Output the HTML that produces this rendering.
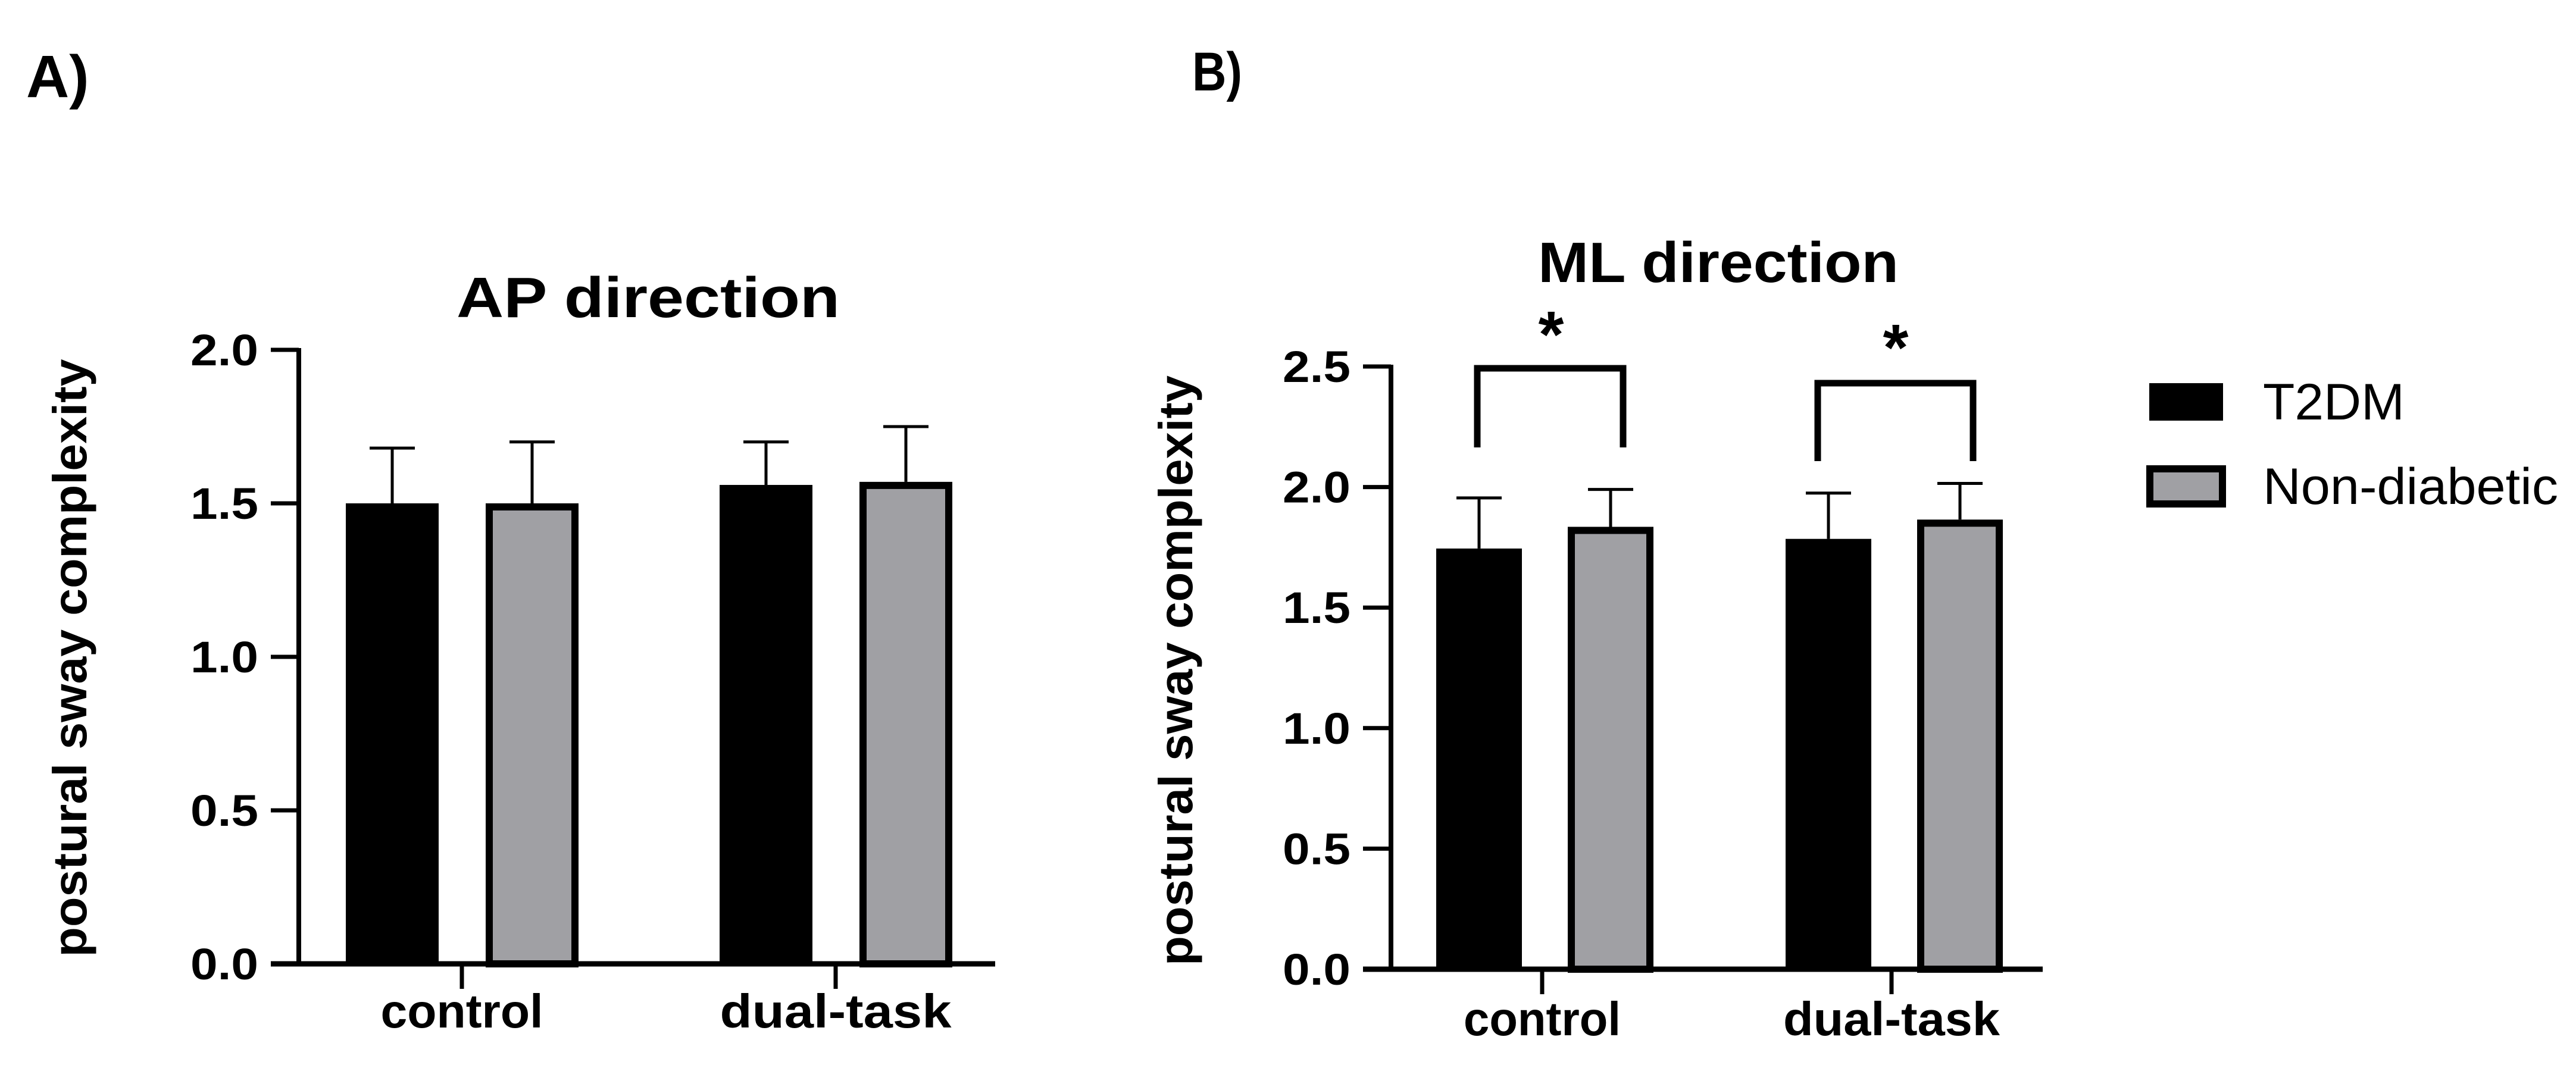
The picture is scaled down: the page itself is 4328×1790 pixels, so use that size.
<!DOCTYPE html>
<html><head><meta charset="utf-8"><style>
html,body{margin:0;padding:0;background:#fff;}
svg{display:block;font-family:"Liberation Sans",Arial,sans-serif;}
</style></head><body>
<svg id="fig" width="4328" height="1790" viewBox="0 0 4328 1790" xmlns="http://www.w3.org/2000/svg">
<rect width="4328" height="1790" fill="#fff"/>
<text x="44" y="163" font-size="100" font-weight="bold">A)</text>
<text x="2003" y="152" font-size="92" font-weight="bold" textLength="84" lengthAdjust="spacingAndGlyphs">B)</text>
<g id="chartA"></g>
<g id="chartB"></g>
<g>
<rect x="3611" y="644" width="124" height="63" fill="#000"/>
<text x="3802" y="705" font-size="86" textLength="238" lengthAdjust="spacingAndGlyphs">T2DM</text>
<rect x="3612" y="788" width="122" height="59" fill="#a0a0a4" stroke="#000" stroke-width="12"/>
<text x="3802" y="847" font-size="86" textLength="496" lengthAdjust="spacingAndGlyphs">Non-diabetic</text>
</g>
</svg>
<script>
const categories = ["control", "dual-task"];
const apT2dm = [1.50, 1.56];
const apT2dmErr = [0.18, 0.14];
const apNon = [1.50, 1.57];
const apNonErr = [0.20, 0.18];
const apTicks = ["0.0","0.5","1.0","1.5","2.0"];
const mlT2dm = [1.745, 1.785];
const mlT2dmErr = [0.21, 0.19];
const mlNon = [1.835, 1.865];
const mlNonErr = [0.155, 0.15];
const mlTicks = ["0.0","0.5","1.0","1.5","2.0","2.5"];
const sigLabels = ["*", "*"];

const NS = "http://www.w3.org/2000/svg";
function mk(parent, tag, attrs, text) {
  const e = document.createElementNS(NS, tag);
  for (const k in attrs) e.setAttribute(k, attrs[k]);
  if (text !== undefined) e.textContent = text;
  parent.appendChild(e);
  return e;
}

function drawChart(g, cfg) {
  const y = v => cfg.y0 - (v / cfg.yMax) * (cfg.y0 - cfg.yTop);
  const t = mk(g, "text", {x: cfg.titleX, y: cfg.titleY, "font-size": 96, "font-weight": "bold", "text-anchor": "middle",
    textLength: cfg.titleLen, lengthAdjust: "spacingAndGlyphs"}, cfg.title);
  
  
  const yl = mk(g, "text", {x: 0, y: 0, "font-size": cfg.ylSize, "font-weight": "bold", "text-anchor": "middle",
    transform: `translate(${cfg.ylX},${cfg.ylY}) rotate(-90)`, textLength: cfg.ylLen, lengthAdjust: "spacingAndGlyphs"}, "postural sway complexity");
  
  
  cfg.ticks.forEach(lbl => {
    const v = parseFloat(lbl);
    const tk = mk(g, "line", {x1: cfg.axisX - 47, x2: cfg.axisX, y1: y(v), y2: y(v), stroke: "#000", "stroke-width": 7});
    
    
    const tl = mk(g, "text", {x: cfg.axisX - 68, y: y(v) + 26, "font-size": 74, "font-weight": "bold", "text-anchor": "end",
      textLength: cfg.tickLen, lengthAdjust: "spacingAndGlyphs"}, lbl);
    
    
  });
  const ya = mk(g, "line", {x1: cfg.axisX, x2: cfg.axisX, y1: cfg.yTop - 3, y2: cfg.y0 + 4, stroke: "#000", "stroke-width": 8});
  
  
  const xa = mk(g, "line", {x1: cfg.axisX - 47, x2: cfg.xEnd, y1: cfg.y0, y2: cfg.y0, stroke: "#000", "stroke-width": 9});
  
  
  categories.forEach((c, i) => {
    const cx = cfg.catX[i];
    const ct = mk(g, "line", {x1: cx, x2: cx, y1: cfg.y0, y2: cfg.y0 + 42, stroke: "#000", "stroke-width": 7});
    
    
    const cl = mk(g, "text", {x: cx, y: cfg.catY, "font-size": 80, "font-weight": "bold", "text-anchor": "middle",
      textLength: cfg.catLen[i], lengthAdjust: "spacingAndGlyphs"}, c);
    
    
    const series = [[cfg.t2dm, cfg.t2dmErr, "#000", cfg.off[0], "t2dm"], [cfg.non, cfg.nonErr, "#a0a0a4", cfg.off[1], "non-diabetic"]];
    series.forEach(([vals, errs, fill, off, nm]) => {
      const bx = cx + off - cfg.bw / 2;
      const top = y(vals[i]);
      const topE = y(vals[i] + errs[i]);
      const el = mk(g, "line", {x1: bx + cfg.bw / 2, x2: bx + cfg.bw / 2, y1: top, y2: topE, stroke: "#000", "stroke-width": 5});
      
      
      const ec = mk(g, "line", {x1: bx + cfg.bw / 2 - 38, x2: bx + cfg.bw / 2 + 38, y1: topE, y2: topE, stroke: "#000", "stroke-width": 5});
      
      
      let r;
      if (fill === "#000") {
        r = mk(g, "rect", {x: bx, y: top, width: cfg.bw, height: cfg.y0 - top, fill: "#000"});
      } else {
        r = mk(g, "rect", {x: bx + 6, y: top + 6, width: cfg.bw - 12, height: cfg.y0 - top - 6, fill: fill, stroke: "#000", "stroke-width": 12});
      }
      
      
    });
  });
}

drawChart(document.getElementById("chartA"), {
  title: "AP direction", titleX: 1089, titleY: 533, titleLen: 644,
  ylX: 145, ylY: 1106, ylSize: 80, ylLen: 1005,
  axisX: 502, yTop: 588, y0: 1620, yMax: 2.0, xEnd: 1672,
  ticks: apTicks, tickLen: 114,
  catX: [776, 1404], catY: 1727, catLen: [273, 389], off: [-117, 118], bw: 156,
  t2dm: apT2dm, t2dmErr: apT2dmErr, non: apNon, nonErr: apNonErr
});
drawChart(document.getElementById("chartB"), {
  title: "ML direction", titleX: 2887, titleY: 474, titleLen: 606,
  ylX: 2003, ylY: 1127, ylSize: 80, ylLen: 992,
  axisX: 2337, yTop: 616, y0: 1629, yMax: 2.5, xEnd: 3432,
  ticks: mlTicks, tickLen: 114,
  catX: [2591, 3178], catY: 1740, catLen: [264, 364], off: [-106, 115], bw: 144,
  t2dm: mlT2dm, t2dmErr: mlT2dmErr, non: mlNon, nonErr: mlNonErr
});

(function(){
  const g = document.getElementById("chartB");
  const br = [[2482, 2727, 619, 752, 2606, 600], [3054, 3315, 644, 775, 3185, 622]];
  br.forEach((b, i) => {
    const p = mk(g, "polyline", {points: `${b[0]},${b[3]} ${b[0]},${b[2]} ${b[1]},${b[2]} ${b[1]},${b[3]}`, fill: "none", stroke: "#000", "stroke-width": 11});
    
    
    const s = mk(g, "text", {x: b[4], y: b[5], "font-size": 110, "font-weight": "bold", "text-anchor": "middle"}, sigLabels[i]);
    
    
  });
})();
</script>
</body></html>
